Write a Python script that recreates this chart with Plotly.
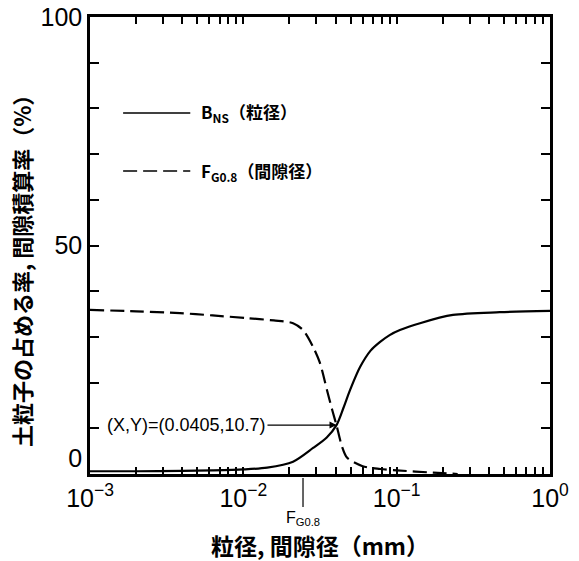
import math
import plotly.graph_objects as go

# Particle size fraction B_NS (solid) and cumulative pore fraction F_G0.8 (dashed)
bns_d = [0.001, 0.002, 0.004, 0.0063, 0.01, 0.0143, 0.0211, 0.0285, 0.035, 0.0405,
         0.045, 0.0497, 0.0577, 0.0676, 0.078, 0.09, 0.105, 0.142, 0.233, 0.47, 1.0]
bns_pct = [0.6, 0.6, 0.7, 0.8, 1.0, 1.4, 2.7, 5.7, 8.0, 10.7,
           14.5, 18.4, 23.4, 27.0, 28.9, 30.4, 31.5, 33.0, 34.8, 35.4, 35.7]

fg_d = [0.001, 0.002, 0.00386, 0.0063, 0.0106, 0.0158, 0.0211, 0.0245, 0.0285, 0.0316,
        0.0351, 0.038, 0.0405, 0.044, 0.0474, 0.06, 0.078, 0.1, 0.173, 0.25]
fg_pct = [35.9, 35.6, 35.2, 34.7, 34.1, 33.6, 33.0, 31.5, 27.8, 24.3,
          18.4, 14.0, 10.7, 6.0, 3.6, 1.7, 1.1, 0.8, 0.3, 0.0]

cross_x, cross_y = 0.0405, 10.7
fg08_d = 0.0245

x_major = [0.001, 0.01, 0.1, 1.0]
x_major_text = ["10<sup>−3</sup>", "10<sup>−2</sup>", "10<sup>−1</sup>", "10<sup>0</sup>"]
x_minor = [m * 10 ** e for e in (-3, -2, -1) for m in range(2, 10)]
y_ticks = list(range(0, 101, 10))
y_labels = {0: "0<br> ", 50: "50", 100: "100"}

legend_names = ["B<sub>NS</sub>（粒径）", "F<sub>G0.8</sub>（間隙径）"]
x_title = "粒径, 間隙径（mm）"
y_title = "土粒子の占める率, 間隙積算率（%）"

dash_pat = "14px,6px"

fig = go.Figure()
fig.add_trace(go.Scatter(x=bns_d, y=bns_pct, mode="lines", name=legend_names[0],
                         line=dict(color="black", width=2.2, shape="spline", smoothing=0.8),
                         showlegend=False))
fig.add_trace(go.Scatter(x=fg_d, y=fg_pct, mode="lines", name=legend_names[1],
                         line=dict(color="black", width=2.2, dash=dash_pat,
                                   shape="spline", smoothing=0.8),
                         showlegend=False))

jp = "Noto Sans CJK JP"
num_font = "Liberation Sans"

# hand-laid legend block
leg_x0, leg_x1 = 0.072, 0.218
for yy, dash, name in [(0.79, "solid", legend_names[0]), (0.663, dash_pat, legend_names[1])]:
    fig.add_shape(type="line", xref="paper", yref="paper", x0=leg_x0, x1=leg_x1, y0=yy, y1=yy,
                  line=dict(color="black", width=1.6, dash=dash))
    fig.add_annotation(xref="paper", yref="paper", x=leg_x1 + 0.02, y=yy, text=name,
                       showarrow=False, xanchor="left", yanchor="middle",
                       font=dict(family=jp, size=17, color="black", weight="bold"))

# crossing point label
fig.add_annotation(x=math.log10(cross_x), y=cross_y, xref="x", yref="y",
                   text=f"(X,Y)=({cross_x},{cross_y})", showarrow=True,
                   ax=-150, ay=0, arrowhead=2, arrowsize=1, arrowwidth=1.4,
                   arrowcolor="black", font=dict(family=num_font, size=18, color="black"))

# F_G0.8 marker under the axis
fig.add_annotation(x=math.log10(fg08_d), y=0, xref="x", yref="y",
                   text="F<sub>G0.8</sub>", showarrow=True, ax=0, ay=44,
                   arrowhead=0, arrowwidth=1.2, standoff=4, arrowcolor="black",
                   font=dict(family=num_font, size=16, color="black"))

# axis titles
fig.add_annotation(xref="paper", yref="paper", x=0.5, y=(474 - 545) / 457, text=x_title,
                   showarrow=False, xanchor="center", yanchor="middle",
                   font=dict(family=jp, size=23, color="black", weight="bold"))
fig.add_annotation(xref="paper", yref="paper", x=(21 - 90) / 460, y=(474 - 266) / 457,
                   text=y_title, textangle=-90, showarrow=False,
                   xanchor="center", yanchor="middle",
                   font=dict(family=jp, size=22, color="black", weight="bold"))

axis_common = dict(showline=True, linecolor="black", linewidth=2.5, mirror="allticks",
                   ticks="inside", tickcolor="black", tickwidth=1.5, showgrid=False,
                   zeroline=False)

fig.update_xaxes(type="log", range=[-3, 0], tickmode="array",
                 tickvals=x_major + x_minor,
                 ticktext=x_major_text + [""] * len(x_minor),
                 ticklen=7, tickfont=dict(family=num_font, size=25, color="black"),
                 **axis_common)
fig.update_yaxes(range=[0, 100], tickmode="array", tickvals=y_ticks,
                 ticktext=[y_labels.get(v, "") for v in y_ticks], ticklen=9,
                 tickfont=dict(family=num_font, size=25, color="black"),
                 **axis_common)

fig.update_layout(width=579, height=561, margin=dict(l=90, r=29, t=17, b=87, autoexpand=False),
                  plot_bgcolor="white", paper_bgcolor="white")

fig.write_html("out.html")
